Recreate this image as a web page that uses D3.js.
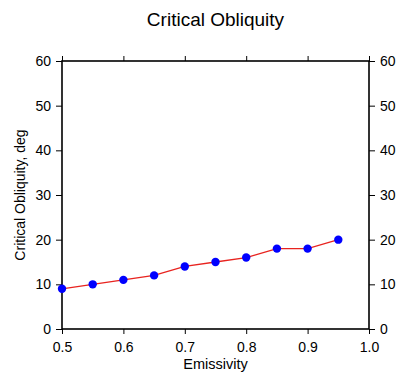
<!DOCTYPE html>
<html>
<head>
<meta charset="utf-8">
<script src="https://cdn.jsdelivr.net/npm/d3@7"></script>
<style>
  body { margin: 0; background: #fff; }
  text { font-family: "Liberation Sans", Arial, sans-serif; fill: #000; }
</style>
</head>
<body>
<div id="chart"></div>
<script>
const emissivity = [0.5, 0.55, 0.6, 0.65, 0.7, 0.75, 0.8, 0.85, 0.9, 0.95]
const obliquity = [9, 10, 11, 12, 14, 15, 16, 18, 18, 20]
const xTicks = [0.5, 0.6, 0.7, 0.8, 0.9, 1.0]
const yTicks = [0, 10, 20, 30, 40, 50, 60]

const margin = { top: 61, right: 27, bottom: 46, left: 62 }
const width = 396 - margin.left - margin.right
const height = 375 - margin.top - margin.bottom

const root = d3.select('#chart')
  .append('svg')
  .attr('width', 396)
  .attr('height', 375)

const svg = root.append('g')
  .attr('transform', 'translate(' + margin.left + ',' + margin.top + ')')

const x = d3.scaleLinear().domain([0.5, 1.0]).range([0, width])
const y = d3.scaleLinear().domain([0, 60]).range([height, 0])

// axes on all four sides, ticks outward
const axes = [
  { ax: d3.axisBottom(x).tickValues(xTicks).tickFormat(d3.format('.1f')).tickSize(5).tickPadding(8), t: `translate(0,${height})`, labels: true },
  { ax: d3.axisTop(x).tickValues(xTicks).tickSize(5), t: 'translate(0,0)', labels: false },
  { ax: d3.axisLeft(y).tickValues(yTicks).tickFormat(d3.format('d')).tickSize(6).tickPadding(5), t: 'translate(0,0)', labels: true },
  { ax: d3.axisRight(y).tickValues(yTicks).tickFormat(d3.format('d')).tickSize(6).tickPadding(5), t: `translate(${width},0)`, labels: true }
]

axes.forEach(a => {
  const g = svg.append('g')
    .attr('transform', a.t)
    .call(a.ax)
  g.select('.domain').remove()
  g.selectAll('line').attr('stroke', '#000').attr('stroke-width', 1)
  g.selectAll('text')
    .attr('font-size', 14)
    .attr('font-family', '"Liberation Sans", Arial, sans-serif')
  if (!a.labels) g.selectAll('text').remove()
})

// frame
svg.append('rect')
  .attr('width', width)
  .attr('height', height)
  .attr('fill', 'none')
  .attr('stroke', '#000')
  .attr('stroke-width', 1.6)

const line = d3.line()
  .x((d, i) => x(emissivity[i]))
  .y(d => y(d))

svg.append('path')
  .datum(obliquity)
  .attr('d', line)
  .attr('fill', 'none')
  .attr('stroke', '#e8231f')
  .attr('stroke-width', 1.3)

svg.selectAll('.pt')
  .data(obliquity)
  .enter()
  .append('circle')
  .attr('class', 'pt')
  .attr('cx', (d, i) => x(emissivity[i]))
  .attr('cy', d => y(d))
  .attr('r', 4.2)
  .attr('fill', '#0000ff')

// title and labels
root.append('text')
  .attr('x', 215.5)
  .attr('y', 26)
  .attr('text-anchor', 'middle')
  .attr('font-size', 19)
  .text('Critical Obliquity')

root.append('text')
  .attr('x', 215.5)
  .attr('y', 369)
  .attr('text-anchor', 'middle')
  .attr('font-size', 14.5)
  .text('Emissivity')

root.append('text')
  .attr('transform', `translate(25,${margin.top + height / 2}) rotate(-90)`)
  .attr('text-anchor', 'middle')
  .attr('font-size', 14)
  .text('Critical Obliquity, deg')
</script>
</body>
</html>
